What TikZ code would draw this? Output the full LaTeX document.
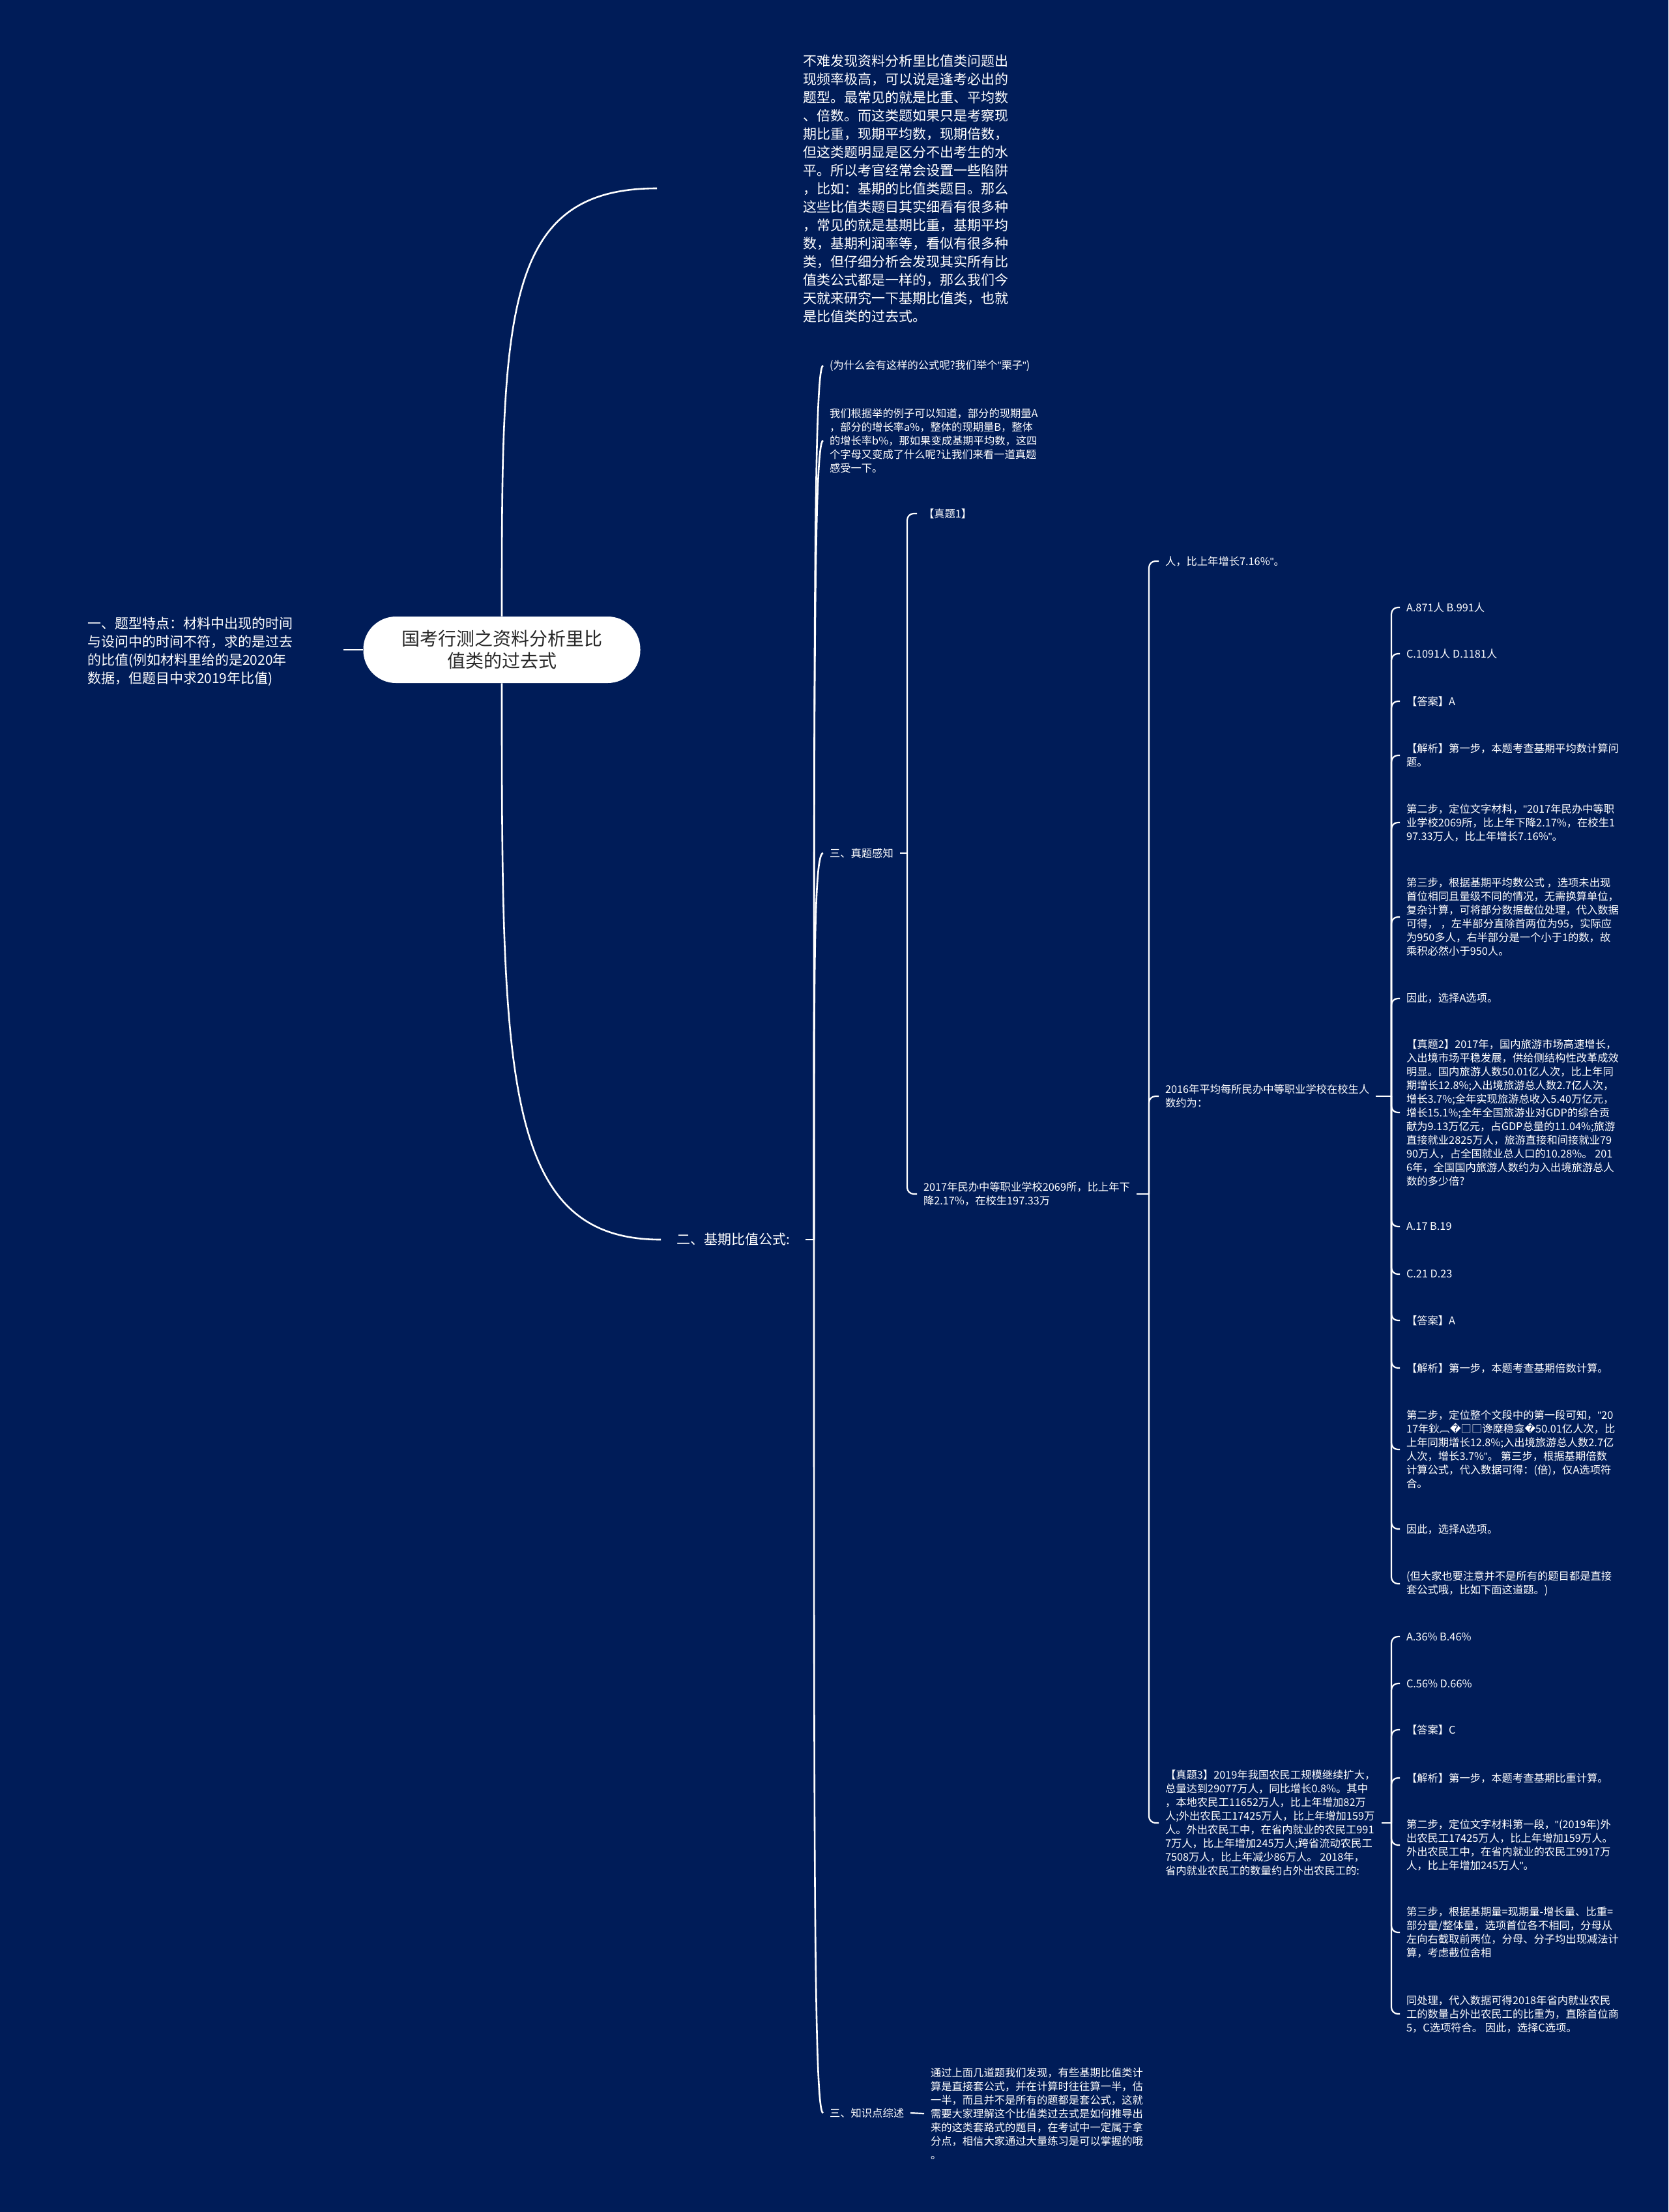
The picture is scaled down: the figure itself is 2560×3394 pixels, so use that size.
\documentclass[tikz,border=0pt]{standalone}
\usepackage{fontspec}
\setmainfont{Noto Sans CJK SC}
\newfontfamily\dejavu{DejaVu Sans}
\newfontfamily\latinq{Liberation Sans}
\usepackage{tikz}
\usetikzlibrary{calc}
\definecolor{navybg}{RGB}{0,28,88}
\definecolor{rootink}{RGB}{40,40,40}
\newcommand\bcurve[2]{\draw[branch] (#1) .. controls ($(#1)!0.7!(#1|-#2)$) and (#1|-#2) .. (#2);}
\newcommand\badch{{\dejavu\char"FFFD}}
\newcommand\dq{{\latinq\char"22}}

\begin{document}
\begin{tikzpicture}[x=0.5pt,y=-0.5pt,
  every node/.style={inner sep=0pt,text=white},
  bigtxt/.style={anchor=west,align=left,outer sep=12pt,font=\fontsize{10.5pt}{14pt}\selectfont},
  smalltxt/.style={anchor=west,align=left,outer sep=5pt,font=\fontsize{8.15pt}{10.5pt}\selectfont},
  branch/.style={white,line width=1.3pt},
  elbow/.style={white,line width=1.1pt,rounded corners=5pt}]
  \fill[navybg] (0,0) rectangle (2560,3394);
  \useasboundingbox (0,0) rectangle (2560,3394);

  \node[fill=white,rounded corners=25pt,minimum width=212.5pt,minimum height=51pt,align=center,text=rootink,font=\fontsize{14pt}{17pt}\selectfont] (root) at (770,997)
    {国考行测之资料分析里比\\值类的过去式};
  \node[bigtxt] (lt) at (110,1000)
    {一、题型特点：材料中出现的时间\\与设问中的时间不符，求的是过去\\的比值(例如材料里给的是2020年\\数据，但题目中求2019年比值)};
  \node[bigtxt] (top) at (1208,289)
    {不难发现资料分析里比值类问题出\\现频率极高，可以说是逢考必出的\\题型。最常见的就是比重、平均数\\、倍数。而这类题如果只是考察现\\期比重，现期平均数，现期倍数，\\但这类题明显是区分不出考生的水\\平。所以考官经常会设置一些陷阱\\，比如：基期的比值类题目。那么\\这些比值类题目其实细看有很多种\\，常见的就是基期比重，基期平均\\数，基期利润率等，看似有很多种\\类，但仔细分析会发现其实所有比\\值类公式都是一样的，那么我们今\\天就来研究一下基期比值类，也就\\是比值类的过去式。};
  \node[bigtxt] (base) at (1014,1902) {二、基期比值公式:};

  \node[smalltxt] (why) at (1263,561) {(为什么会有这样的公式呢?我们举个\dq 栗子\dq)};
  \node[smalltxt] (eg) at (1263,676)
    {我们根据举的例子可以知道，部分的现期量A\\，部分的增长率a\%，整体的现期量B，整体\\的增长率b\%，那如果变成基期平均数，这四\\个字母又变成了什么呢?让我们来看一道真题\\感受一下。};
  \node[smalltxt] (real) at (1263,1309) {三、真题感知};
  \node[smalltxt] (summ) at (1263,3242) {三、知识点综述};

  \node[smalltxt] (q1) at (1407,788) {【真题1】};
  \node[smalltxt] (s17) at (1407,1832) {2017年民办中等职业学校2069所，比上年下\\降2.17\%，在校生197.33万};
  \node[smalltxt] (kn) at (1418,3243)
    {通过上面几道题我们发现，有些基期比值类计\\算是直接套公式，并在计算时往往算一半，估\\一半，而且并不是所有的题都是套公式，这就\\需要大家理解这个比值类过去式是如何推导出\\来的这类套路式的题目，在考试中一定属于拿\\分点，相信大家通过大量练习是可以掌握的哦\\。};

  \node[smalltxt] (r716) at (1778,861) {人，比上年增长7.16\%\dq。};
  \node[smalltxt] (y16) at (1778,1682) {2016年平均每所民办中等职业学校在校生人\\数约为：};
  \node[smalltxt] (q3) at (1778,2797)
    {【真题3】2019年我国农民工规模继续扩大，\\总量达到29077万人，同比增长0.8\%。其中\\，本地农民工11652万人，比上年增加82万\\人;外出农民工17425万人，比上年增加159万\\人。外出农民工中，在省内就业的农民工991\\7万人，比上年增加245万人;跨省流动农民工\\7508万人，比上年减少86万人。 2018年，\\省内就业农民工的数量约占外出农民工的:};

  \node[smalltxt] (c1) at (2148,932) {A.871人 B.991人};
  \node[smalltxt] (c2) at (2148,1003) {C.1091人 D.1181人};
  \node[smalltxt] (c3) at (2148,1076) {【答案】A};
  \node[smalltxt] (c4) at (2148,1159) {【解析】第一步，本题考查基期平均数计算问\\题。};
  \node[smalltxt] (c5) at (2148,1262)
    {第二步，定位文字材料，\dq 2017年民办中等职\\业学校2069所，比上年下降2.17\%，在校生1\\97.33万人，比上年增长7.16\%\dq。};
  \node[smalltxt] (c6) at (2148,1407)
    {第三步，根据基期平均数公式 ，选项未出现\\首位相同且量级不同的情况，无需换算单位，\\复杂计算，可将部分数据截位处理，代入数据\\可得， ，左半部分直除首两位为95，实际应\\为950多人，右半部分是一个小于1的数，故\\乘积必然小于950人。};
  \node[smalltxt] (c7) at (2148,1532) {因此，选择A选项。};
  \node[smalltxt] (c8) at (2148,1707)
    {【真题2】2017年，国内旅游市场高速增长，\\入出境市场平稳发展，供给侧结构性改革成效\\明显。国内旅游人数50.01亿人次，比上年同\\期增长12.8\%;入出境旅游总人数2.7亿人次，\\增长3.7\%;全年实现旅游总收入5.40万亿元，\\增长15.1\%;全年全国旅游业对GDP的综合贡\\献为9.13万亿元，占GDP总量的11.04\%;旅游\\直接就业2825万人，旅游直接和间接就业79\\90万人，占全国就业总人口的10.28\%。 201\\6年，全国国内旅游人数约为入出境旅游总人\\数的多少倍?};
  \node[smalltxt] (c9) at (2148,1882) {A.17 B.19};
  \node[smalltxt] (c10) at (2148,1955) {C.21 D.23};
  \node[smalltxt] (c11) at (2148,2026) {【答案】A};
  \node[smalltxt] (c12) at (2148,2099) {【解析】第一步，本题考查基期倍数计算。};
  \node[smalltxt] (c13) at (2148,2224)
    {第二步，定位整个文段中的第一段可知，\dq 20\\17年鈥︹\badch{}□□谗糜稳龛\badch{}50.01亿人次，比\\上年同期增长12.8\%;入出境旅游总人数2.7亿\\人次，增长3.7\%\dq。 第三步，根据基期倍数\\计算公式，代入数据可得：(倍)，仅A选项符\\合。};
  \node[smalltxt] (c14) at (2148,2346) {因此，选择A选项。};
  \node[smalltxt] (c15) at (2148,2430) {(但大家也要注意并不是所有的题目都是直接\\套公式哦，比如下面这道题。)};

  \node[smalltxt] (d1) at (2148,2511) {A.36\% B.46\%};
  \node[smalltxt] (d2) at (2148,2583) {C.56\% D.66\%};
  \node[smalltxt] (d3) at (2148,2654) {【答案】C};
  \node[smalltxt] (d4) at (2148,2728) {【解析】第一步，本题考查基期比重计算。};
  \node[smalltxt] (d5) at (2148,2831)
    {第二步，定位文字材料第一段，\dq(2019年)外\\出农民工17425万人，比上年增加159万人。\\外出农民工中，在省内就业的农民工9917万\\人，比上年增加245万人\dq。};
  \node[smalltxt] (d6) at (2148,2965)
    {第三步，根据基期量=现期量-增长量、比重=\\部分量/整体量，选项首位各不相同，分母从\\左向右截取前两位，分母、分子均出现减法计\\算，考虑截位舍相};
  \node[smalltxt] (d7) at (2148,3090)
    {同处理，代入数据可得2018年省内就业农民\\工的数量占外出农民工的比重为，直除首位商\\5，C选项符合。 因此，选择C选项。};

  \coordinate (topin) at ([xshift=-100pt]top.west);
  \coordinate (ltin) at ([xshift=-15pt]root.west);
  \coordinate (bj) at (base.east -| 1249,0);
  \coordinate (j1) at (real.east -| 1392,0);
  \coordinate (j2) at (s17.east -| 1763,0);
  \coordinate (j3) at (y16.east -| 2135,0);
  \coordinate (j4) at (q3.east -| 2135,0);

  \draw[branch] (root.west) -- (ltin);
  \bcurve{root.north}{topin}
  \bcurve{root.south}{base.west}
  \draw[branch] (base.east) -- (bj);
  \bcurve{bj}{why.west}
  \bcurve{bj}{eg.west}
  \bcurve{bj}{real.west}
  \bcurve{bj}{summ.west}

  \draw[elbow] (real.east) -- (j1);
  \draw[elbow] (j1) |- (q1.west);
  \draw[elbow] (j1) |- (s17.west);
  \draw[elbow] (s17.east) -- (j2);
  \draw[elbow] (j2) |- (r716.west);
  \draw[elbow] (j2) |- (y16.west);
  \draw[elbow] (j2) |- (q3.west);
  \draw[elbow] (y16.east) -- (j3);
  \foreach \i in {1,...,15} \draw[elbow] (j3) |- (c\i.west);
  \draw[elbow] (q3.east) -- (j4);
  \foreach \i in {1,...,7} \draw[elbow] (j4) |- (d\i.west);
  \draw[elbow] (summ.east) -- (kn.west);
\end{tikzpicture}
\end{document}
